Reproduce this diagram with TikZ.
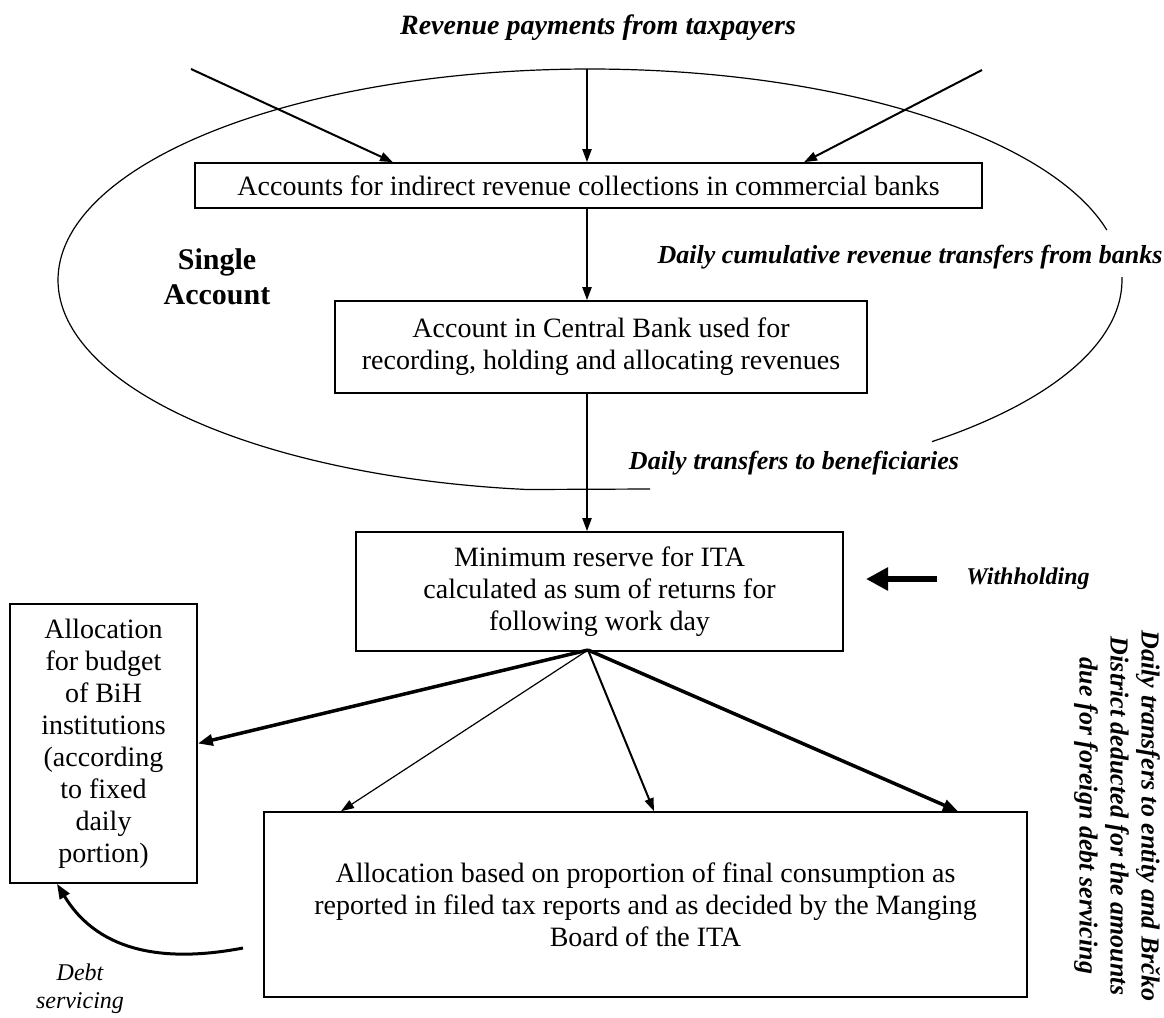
\documentclass[tikz,border=0pt]{standalone}
\usepackage{fontspec}
\setmainfont{Liberation Serif}
\usetikzlibrary{arrows.meta,calc}
\begin{document}
\begin{tikzpicture}[x=1pt,y=-1pt,
  box/.style={draw, line width=1.6pt, inner sep=0pt, align=center,
    font=\fontsize{28}{32}\selectfont},
  lbl/.style={inner sep=0pt, align=center, font=\bfseries\itshape\fontsize{26}{30}\selectfont},
  ell/.style={line width=1.2pt},
  arr/.style={-{Triangle[length=13pt,width=9pt]}, line width=2pt},
  thickarr/.style={-{Triangle[length=15pt,width=11pt]}, line width=3.5pt},
  thinarr/.style={-{Triangle[length=13pt,width=9pt]}, line width=1.2pt}
]
\useasboundingbox (0,0) rectangle (1164,1017);

% title
\node[lbl, font=\bfseries\itshape\fontsize{28}{32}\selectfont] (title) at (598,28) {Revenue payments from taxpayers};

% single account ellipse (open)
\draw[ell] plot[domain=50:-0.8, samples=40, smooth] ({590+532*cos(\x)},{280+211*sin(\x)});
\draw[ell] plot[domain=-13.7:-263.2, samples=160, smooth] ({590+532*cos(\x)},{280+211*sin(\x)}) -- (650,489);

% boxes
\node[box, minimum width=787pt, minimum height=45pt] (b1) at (588.5,185.5)
  {Accounts for indirect revenue collections in commercial banks};
\node[box, minimum width=532pt, minimum height=92pt] (b2) at (601,347)
  {Account in Central Bank used for\\recording, holding and allocating revenues};
\node[box, minimum width=487pt, minimum height=119pt] (b3) at (599.5,591.5)
  {Minimum reserve for ITA\\calculated as sum of returns for\\following work day};
\node[box, minimum width=187pt, minimum height=279pt] (b4) at (103.5,743.5)
  {Allocation\\for budget\\of BiH\\institutions\\(according\\to fixed\\daily\\portion)};
\node[box, minimum width=763pt, minimum height=185pt] (b5) at (645.5,904.5)
  {Allocation based on proportion of final consumption as\\reported in filed tax reports and as decided by the Manging\\Board of the ITA};

% labels
\node[font=\bfseries\fontsize{30}{35}\selectfont, align=center, inner sep=0pt] (single) at (217,277) {Single\\Account};
\node[lbl] (cum) at (910,257) {Daily cumulative revenue transfers from banks};
\node[lbl] (ben) at (794,463) {Daily transfers to beneficiaries};
\node[lbl, font=\bfseries\itshape\fontsize{24}{28}\selectfont] (with) at (1028,579) {Withholding};
\node[lbl, font=\bfseries\itshape\fontsize{26}{31}\selectfont, rotate=-90] (ent) at (1117,816)
  {Daily transfers to entity and Brčko\\District deducted for the amounts\\due for foreign debt servicing};
\node[inner sep=0pt, align=center, font=\itshape\fontsize{24}{28}\selectfont] (debt) at (80,989) {Debt\\servicing};

% incoming payments
\coordinate (tl) at (191,69);
\coordinate (tm) at (587,69);
\coordinate (tr) at (982,70);
\draw[arr] (tl) -- (393,0 |- b1.north);
\draw[arr] (tm) -- (587,0 |- b1.north);
\draw[arr] (tr) -- (804,0 |- b1.north);

% vertical flow
\draw[arr] (587,0 |- b1.south) -- (587,0 |- b2.north);
\draw[arr] (587,0 |- b2.south) -- (587,0 |- b3.north);

% withholding
\coordinate (wh) at (937,579);
\draw[-{Triangle[length=22pt,width=22pt]}, line width=6pt] (wh) -- (866,0 |- wh);

% distribution
\coordinate (apex) at (588,650);
\draw[thickarr] (apex) -- (b4.east);
\draw[thinarr] (apex) -- (341,0 |- b5.north);
\draw[arr] (apex) -- (654,0 |- b5.north);
\draw[thickarr] (apex) -- (958,0 |- b5.north);

% debt servicing
\coordinate (ds) at (243,948);
\draw[-{Triangle[length=15pt,width=11pt]}, line width=3pt] (ds) .. controls (170,962) and (100,955) .. (57,0 |- b4.south);
\end{tikzpicture}
\end{document}
